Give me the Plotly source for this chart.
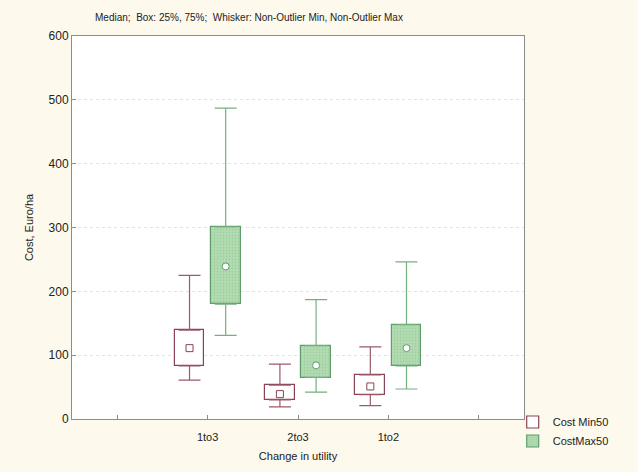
import plotly.graph_objects as go

categories = ["1to3", "2to3", "1to2"]
tick_labels = ["", "1to3", "2to3", "1to2", ""]

# Cost Min50
min_low = [61, 19, 21]
min_q1 = [83, 30, 38]
min_median = [111, 39, 51]
min_q3 = [139, 53, 69]
min_high = [225, 86, 113]

# CostMax50
max_low = [131, 42, 47]
max_q1 = [180, 65, 83]
max_median = [239, 84, 111]
max_q3 = [301, 115, 148]
max_high = [487, 187, 246]

MIN_LINE = "#8a4354"
MIN_WHISK = "#9b5a68"
MAX_LINE = "#5e9d69"
MAX_WHISK = "#74b07e"
MAX_FILL = "#b3dcb2"

pos = [i + 1 for i in range(len(categories))]
pos_min = [p - 0.2 for p in pos]
pos_max = [p + 0.2 for p in pos]

fig = go.Figure()


def add_series(name, x, low, q1, med, q3, high, line, whisk, fill, pattern, med_symbol, med_fill):
    fig.add_trace(go.Bar(
        x=x, base=q1, y=[b - a for a, b in zip(q1, q3)], width=0.33,
        name=name, showlegend=True,
        marker=dict(color=fill, line=dict(color=line, width=1.2), pattern=pattern),
    ))
    fig.add_trace(go.Scatter(
        x=x, y=q3, mode="markers", showlegend=False, hoverinfo="skip",
        marker=dict(size=1, color="rgba(0,0,0,0)"),
        error_y=dict(type="data", symmetric=False, array=[h - q for h, q in zip(high, q3)],
                     arrayminus=[0] * len(q3), color=whisk, thickness=1.2, width=11),
    ))
    fig.add_trace(go.Scatter(
        x=x, y=q1, mode="markers", showlegend=False, hoverinfo="skip",
        marker=dict(size=1, color="rgba(0,0,0,0)"),
        error_y=dict(type="data", symmetric=False, array=[0] * len(q1),
                     arrayminus=[q - l for q, l in zip(q1, low)], color=whisk, thickness=1.2, width=11),
    ))
    fig.add_trace(go.Scatter(
        x=x, y=med, mode="markers", showlegend=False, hoverinfo="skip",
        marker=dict(symbol=med_symbol, size=7, color=med_fill, line=dict(color=line, width=1)),
    ))


add_series("Cost Min50", pos_min, min_low, min_q1, min_median, min_q3, min_high,
           MIN_LINE, MIN_WHISK, "white", None, "square", "white")
add_series("CostMax50", pos_max, max_low, max_q1, max_median, max_q3, max_high,
           MAX_LINE, MAX_WHISK, MAX_FILL,
           dict(shape=".", fgcolor="#8cc08e", bgcolor=MAX_FILL, size=3, solidity=0.3),
           "circle", "white")

fig.update_layout(
    width=638, height=472,
    margin=dict(l=72, r=114, t=36, b=53, autoexpand=False),
    paper_bgcolor="#fdf9ec",
    plot_bgcolor="white",
    font=dict(family="Liberation Sans, Arial, sans-serif", size=11, color="#222222"),
    bargap=0, barmode="overlay",
    title=dict(text="Median;  Box: 25%, 75%;  Whisker: Non-Outlier Min, Non-Outlier Max",
               x=95 / 638, xanchor="left", y=1 - 17 / 472, yanchor="middle",
               font=dict(size=10, color="#222222")),
    legend=dict(x=0.975, xanchor="left", y=0.03, yanchor="top", bgcolor="rgba(0,0,0,0)",
                font=dict(size=11), tracegroupgap=0, itemwidth=30),
    showlegend=True,
)
fig.update_xaxes(
    range=[-0.5, 4.5], tickmode="array", tickvals=list(range(len(tick_labels))), ticktext=tick_labels,
    showgrid=False, zeroline=False, showline=True, linecolor="#8c8c8c", linewidth=1, mirror=True,
    ticks="inside", ticklen=4, tickcolor="#8c8c8c", ticklabelstandoff=8,
    title=dict(text="Change in utility", font=dict(size=11), standoff=10),
    tickfont=dict(size=11),
)
fig.update_yaxes(
    range=[0, 600], tickvals=[0, 100, 200, 300, 400, 500, 600],
    showgrid=True, gridcolor="#e2e2e2", griddash="dot", gridwidth=1,
    zeroline=False, showline=True, linecolor="#8c8c8c", linewidth=1, mirror=True,
    ticks="inside", ticklen=4, tickcolor="#8c8c8c",
    title=dict(text="Cost, Euro/ha", font=dict(size=11), standoff=12),
    tickfont=dict(size=12),
)

fig.write_html("out.html", config={"displayModeBar": False},
               post_script="document.body.style.margin='0';")
